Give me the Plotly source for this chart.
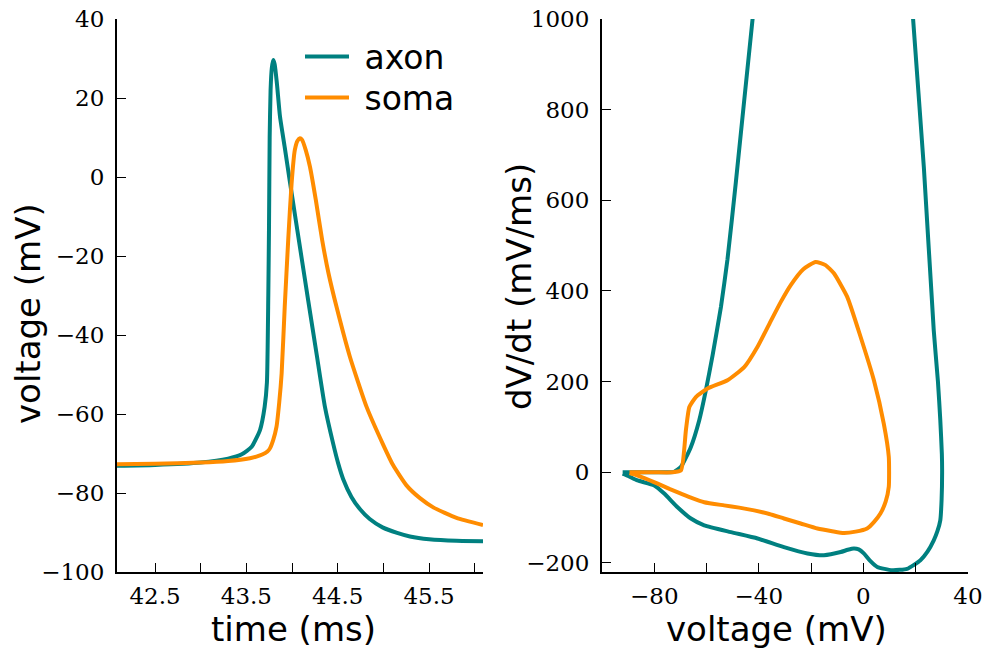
import plotly.graph_objects as go

# ---------------- data ----------------
# Left panel: membrane voltage vs time
axon_t = [42.08, 42.5, 43.0, 43.3, 43.45, 43.558, 43.65, 43.70, 43.725, 43.74, 43.748,
          43.755, 43.765, 43.778, 43.794, 43.81, 43.835, 43.868, 43.92, 43.977, 44.03,
          44.086, 44.177, 44.27, 44.36, 44.45, 44.505, 44.56, 44.65, 44.74, 44.85, 44.99,
          45.15, 45.29, 45.5, 45.8, 46.09]
axon_v = [-73.1, -72.9, -72.3, -71.3, -70.2, -68.3, -64.0, -58.2, -52.0, -30.0, -12.0,
          10.0, 22.0, 27.5, 29.6, 28.5, 23.5, 15.3, 7.5, -1.3, -9.3,
          -17.7, -31.3, -45.0, -58.2, -67.5, -72.5, -76.5, -81.0, -84.0, -86.6, -88.7,
          -90.1, -91.0, -91.7, -92.1, -92.2]

soma_t = [42.08, 42.5, 43.0, 43.3, 43.54, 43.61, 43.68, 43.73, 43.758, 43.795, 43.83,
          43.86, 43.886, 43.92, 43.958, 43.995, 44.03, 44.06, 44.086, 44.11, 44.15,
          44.196, 44.26, 44.33, 44.40, 44.488, 44.633, 44.816, 44.998, 45.107, 45.25,
          45.4, 45.55, 45.8, 46.09]
soma_v = [-72.7, -72.6, -72.3, -71.9, -71.2, -70.8, -70.2, -69.5, -68.7, -66.5, -63.2,
          -57.0, -49.7, -32.8, -16.0, -1.6, 6.8, 9.2, 9.8, 9.4, 6.8,
          2.6, -5.8, -16.0, -24.5, -33.0, -45.5, -58.2, -67.8, -73.0, -78.0,
          -81.3, -83.7, -86.3, -88.1]

# Right panel: phase plot dV/dt vs V
axon_pv = [-92.1, -85.0, -78.0, -74.0, -72.4, -69.8, -66.0, -62.8, -60.3, -57.7, -54.5,
           -52.0, -48.8, -42.4, -36.5, 15.7, 19.0, 23.1, 26.9, 28.5, 29.4, 30.0, 30.1, 29.9,
           29.4, 28.3, 26.9, 24.5, 21.8, 16.7, 11.0, 5.3, 2.5, 0.15, -1.8, -3.7, -6.0,
           -8.7, -15.1, -21.4, -30.4, -40.5, -50.7, -60.9, -66.0, -71.1, -76.2, -80.0,
           -86.4, -90.0, -92.1]
axon_dvdt = [0, 0, 0, 0, 1, 12, 56, 115, 180, 258, 365,
             470, 640, 1000, 1300, 1300, 1000, 674, 313, 200, 115, 40, 0, -60,
             -106, -130, -150, -175, -194, -213, -216, -209, -195, -179, -170, -168, -171,
             -176, -183, -179, -165, -146, -132, -117, -102, -77, -47, -29,
             -18, -8, -3]

soma_pv = [-89.5, -80.0, -73.2, -69.8, -67.9, -66.6, -64.1, -59.6, -52.0, -45.6, -40.5,
           -35.5, -31.6, -27.8, -23.0, -18.3, -14.5, -11.3, -6.2, -1.1, 4.0, 7.8, 9.7,
           9.7, 8.5, 6.5, 4.0, 1.4, -3.0, -7.5, -12.0, -17.6, -24.0,
           -30.4, -36.0, -41.8, -47.5, -53.3, -60.9, -65.5, -69.8, -74.0, -78.7, -82.0,
           -85.1, -88.0, -89.5]
soma_dvdt = [0, 0, 0, 4, 93, 144, 166, 185, 203, 232, 277,
             333, 376, 413, 448, 464, 457, 439, 387, 299, 203, 107, 34,
             -32, -65, -91, -110, -124, -131, -134, -130, -124, -113,
             -102, -92, -84, -78, -73, -66, -57, -47, -37, -25, -17,
             -10, -4, -1.5]

left_xticks = [42.5, 43.0, 43.5, 44.0, 44.5, 45.0, 45.5, 46.0]
left_xtext = ["42.5", "", "43.5", "", "44.5", "", "45.5", ""]
left_yticks = [40, 20, 0, -20, -40, -60, -80, -100]
left_ytext = ["40", "20", "0", "\u221220", "\u221240", "\u221260", "\u221280", "\u2212100"]
right_xticks = [-80, -60, -40, -20, 0, 20, 40]
right_xtext = ["\u221280", "", "\u221240", "", "0", "", "40"]
right_yticks = [-200, 0, 200, 400, 600, 800, 1000]
right_ytext = ["\u2212200", "0", "200", "400", "600", "800", "1000"]

TEAL = "#008080"
ORANGE = "#FF8C00"

W, H = 985, 653

def px(x):
    return x / W

def py(y):
    return 1 - y / H

LINE = dict(width=4, shape="spline", smoothing=0.5)

fig = go.Figure()
fig.add_trace(go.Scatter(x=axon_t, y=axon_v, mode="lines", name="\u00a0axon",
                         line=dict(color=TEAL, **LINE), xaxis="x", yaxis="y",
                         legend="legend"))
fig.add_trace(go.Scatter(x=soma_t, y=soma_v, mode="lines", name="\u00a0soma",
                         line=dict(color=ORANGE, **LINE), xaxis="x", yaxis="y",
                         legend="legend2"))
fig.add_trace(go.Scatter(x=axon_pv, y=axon_dvdt, mode="lines", name="axon", showlegend=False,
                         line=dict(color=TEAL, **LINE), xaxis="x2", yaxis="y2"))
fig.add_trace(go.Scatter(x=soma_pv, y=soma_dvdt, mode="lines", name="soma", showlegend=False,
                         line=dict(color=ORANGE, **LINE), xaxis="x2", yaxis="y2"))

tickfont = dict(family="DejaVu Serif", size=23, color="black")

def axis(**kw):
    d = dict(showline=True, linecolor="black", linewidth=2, ticks="inside",
             ticklen=9, tickwidth=1, tickcolor="black", showgrid=False,
             zeroline=False, tickfont=dict(tickfont), automargin=False, mirror=False,
             tickmode="array")
    d.update(kw)
    return d

legend_common = dict(xanchor="left", yanchor="top",
                     font=dict(family="DejaVu Sans", size=33, color="black"),
                     bgcolor="rgba(0,0,0,0)", borderwidth=0, itemwidth=44)

ydom = [py(572), py(19)]
fig.update_layout(
    width=W, height=H,
    margin=dict(l=0, r=0, t=0, b=0),
    paper_bgcolor="white", plot_bgcolor="white",
    font=dict(family="DejaVu Serif", size=23, color="black"),
    xaxis=axis(domain=[px(117), px(483)], range=[42.084, 46.09], anchor="y",
               tickvals=left_xticks, ticktext=left_xtext, ticklabelstandoff=2),
    yaxis=axis(domain=ydom, range=[-100, 40], anchor="x",
               tickvals=left_yticks, ticktext=left_ytext, ticklabelstandoff=6),
    xaxis2=axis(domain=[px(602), px(968)], range=[-100, 40], anchor="y2",
                tickvals=right_xticks, ticktext=right_xtext, ticklabelstandoff=2),
    yaxis2=axis(domain=ydom, range=[-220, 1000], anchor="x2",
                tickvals=right_yticks, ticktext=right_ytext, ticklabelstandoff=6),
    showlegend=True,
    legend=dict(x=px(300), y=py(28.5), **legend_common),
    legend2=dict(x=px(300), y=py(69.5), **legend_common),
)

title_font = dict(family="DejaVu Sans", size=34, color="black")
annots = [
    dict(text="time (ms)", x=px(293.5), y=py(629)),
    dict(text="voltage (mV)", x=px(776.5), y=py(629)),
    dict(text="voltage (mV)", x=px(28), y=py(314), textangle=-90),
    dict(text="dV/dt (mV/ms)", x=px(519), y=py(287), textangle=-90),
]
for a in annots:
    fig.add_annotation(xref="paper", yref="paper", showarrow=False,
                       xanchor="center", yanchor="middle", font=title_font, **a)

fig.write_html("out.html")
